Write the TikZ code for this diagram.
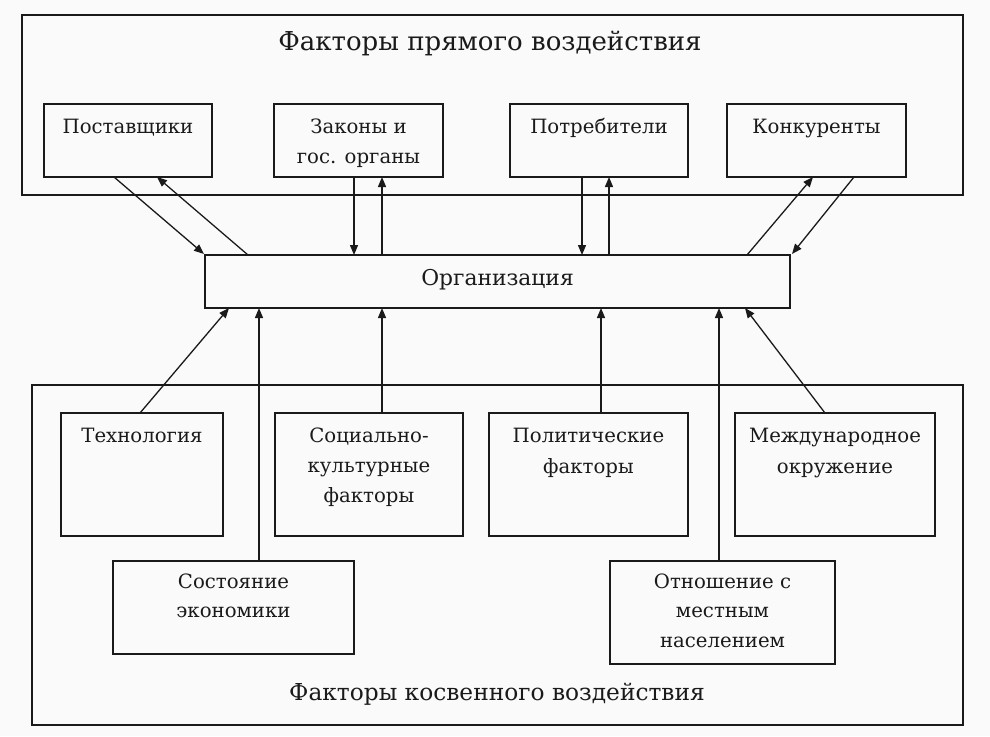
\documentclass[tikz,border=0pt]{standalone}
\usepackage{fontspec}
\setmainfont{DejaVu Serif}
\usetikzlibrary{arrows.meta,calc}
\definecolor{ink}{HTML}{1A1A1A}
\definecolor{bg}{HTML}{FAFAFA}
\begin{document}
\begin{tikzpicture}[x=1pt,y=-1pt,
  box/.style={draw=ink, line width=1.4pt, anchor=north west, inner sep=0pt, outer sep=0pt},
  lbl/.style={anchor=base, inner sep=0pt, text=ink, font=\fontsize{19.7}{22}\selectfont},
  orgl/.style={lbl, font=\fontsize{21.8}{24}\selectfont},
  ttl/.style={lbl, font=\fontsize{26}{29}\selectfont},
  arr/.style={draw=ink, line width=1.3pt, -{Triangle[length=10pt,width=8pt]}},
  ln/.style={draw=ink, line width=1.3pt}]
\fill[bg] (0,0) rectangle (990,736);
\useasboundingbox (0,0) rectangle (990,736);

% outer frames
\node[box, minimum width=941pt, minimum height=180pt] (direct) at (22,15) {};
\node[box, minimum width=931pt, minimum height=340pt] (indirect) at (32,385) {};
\node[ttl] (t-direct) at (490,50) {Факторы прямого воздействия};
\node[ttl, font=\fontsize{23.3}{26}\selectfont] (t-indirect) at (497,700) {Факторы косвенного воздействия};

% top boxes
\node[box, minimum width=168pt, minimum height=73pt] (post) at (44,104) {};
\node[box, minimum width=169pt, minimum height=73pt] (zak) at (274,104) {};
\node[box, minimum width=178pt, minimum height=73pt] (potr) at (510,104) {};
\node[box, minimum width=179pt, minimum height=73pt] (konk) at (727,104) {};
\node[lbl] (t-post) at (128,133) {Поставщики};
\node[lbl] (t-zak1) at (358.5,133) {Законы и};
\node[lbl] (t-zak2) at (358.5,163) {гос. органы};
\node[lbl] (t-potr) at (599,133) {Потребители};
\node[lbl] (t-konk) at (816.5,133) {Конкуренты};

% organisation
\node[box, minimum width=585pt, minimum height=53pt] (org) at (205,255) {};
\node[orgl] (t-org) at (497.5,285) {Организация};

% bottom boxes
\node[box, minimum width=162pt, minimum height=123pt] (tech) at (61,413) {};
\node[box, minimum width=188pt, minimum height=123pt] (soc) at (275,413) {};
\node[box, minimum width=199pt, minimum height=123pt] (pol) at (489,413) {};
\node[box, minimum width=200pt, minimum height=123pt] (mezh) at (735,413) {};
\node[box, minimum width=241pt, minimum height=93pt] (econ) at (113,561) {};
\node[box, minimum width=225pt, minimum height=103pt] (otn) at (610,561) {};

\node[lbl] (t-tech) at (142,442) {Технология};
\node[lbl] (t-soc1) at (369,442) {Социально-};
\node[lbl] (t-soc2) at (369,472) {культурные};
\node[lbl] (t-soc3) at (369,502) {факторы};
\node[lbl] (t-pol1) at (588.5,442) {Политические};
\node[lbl] (t-pol2) at (588.5,473) {факторы};
\node[lbl] (t-mezh1) at (835,442) {Международное};
\node[lbl] (t-mezh2) at (835,473) {окружение};
\node[lbl] (t-econ1) at (233.5,588) {Состояние};
\node[lbl] (t-econ2) at (233.5,617) {экономики};
\node[lbl] (t-otn1) at (722.5,588) {Отношение с};
\node[lbl] (t-otn2) at (722.5,617) {местным};
\node[lbl] (t-otn3) at (722.5,647) {населением};

% connectors top
\draw[arr] ([xshift=70pt]post.south west) -- ([xshift=-1pt,yshift=1pt]org.north west);
\draw[arr] ([xshift=43pt]org.north west) -- ([xshift=113pt]post.south west);
\draw[arr] ([xshift=80pt]zak.south west) -- ([xshift=80pt]zak.south west |- org.north);
\draw[arr] ([xshift=108pt]zak.south west |- org.north) -- ([xshift=108pt]zak.south west);
\draw[arr] ([xshift=72pt]potr.south west) -- ([xshift=72pt]potr.south west |- org.north);
\draw[arr] ([xshift=99pt]potr.south west |- org.north) -- ([xshift=99pt]potr.south west);
\draw[arr] ([xshift=-43pt]org.north east) -- ([xshift=86pt]konk.south west);
\draw[arr] ([xshift=127pt]konk.south west) -- ([xshift=2pt,yshift=1pt]org.north east);

% connectors bottom
\draw[arr] ([xshift=79pt]tech.north west) -- ([xshift=24pt]org.south west);
\draw[arr] ([xshift=146pt]econ.north west) -- ([xshift=146pt]econ.north west |- org.south);
\draw[arr] ([xshift=107pt]soc.north west) -- ([xshift=107pt]soc.north west |- org.south);
\draw[arr] ([xshift=112pt]pol.north west) -- ([xshift=112pt]pol.north west |- org.south);
\draw[arr] ([xshift=109pt]otn.north west) -- ([xshift=109pt]otn.north west |- org.south);
\draw[arr] ([xshift=90pt]mezh.north west) -- ([xshift=-45pt]org.south east);
\end{tikzpicture}
\end{document}
